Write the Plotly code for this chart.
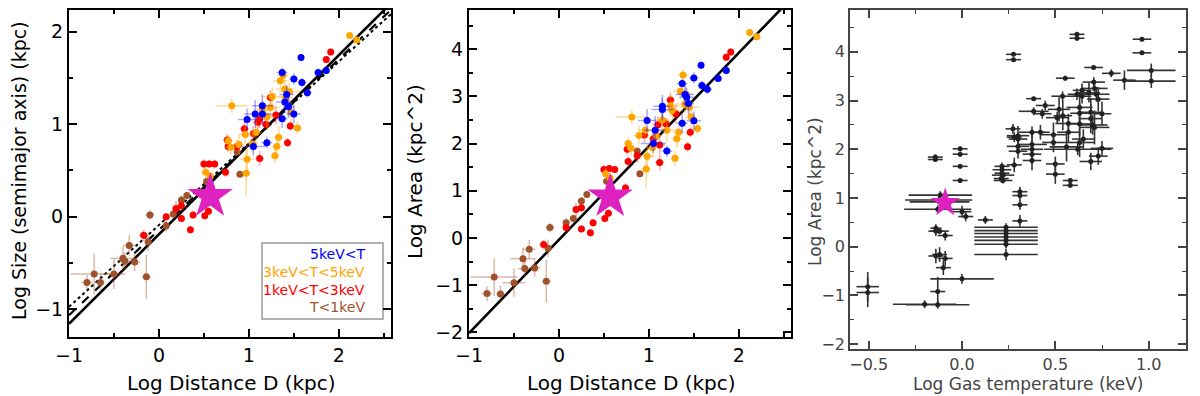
import plotly.graph_objects as go

# ---- left / middle panels: log distance vs log size and log area ----
brown_x = [-0.80, -0.72, -0.65, -0.50, -0.40, -0.38, -0.33, -0.27, -0.14, -0.12, -0.10, 0.08, 0.16, 0.25, 0.31, 0.90, 0.87, 0.53]
brown_size = [-0.71, -0.62, -0.71, -0.62, -0.45, -0.48, -0.31, -0.49, -0.65, -0.27, 0.02, -0.10, 0.03, 0.18, 0.23, 0.46, 0.70, 0.38]
brown_area = [-1.18, -0.83, -1.19, -0.95, -0.44, -0.65, -0.24, -0.64, -0.92, -0.22, 0.22, 0.32, 0.41, 0.78, 0.92, 1.36, 1.84, 1.20]
brown_xerr = [0.06, 0.26, 0.05, 0.13, 0.14, 0.08, 0.07, 0.06, 0.05, 0.04, 0.05, 0.04, 0.04, 0.04, 0.03, 0.03, 0.03, 0.03]
brown_size_err = [0.08, 0.22, 0.10, 0.16, 0.13, 0.10, 0.11, 0.10, 0.24, 0.10, 0.05, 0.06, 0.05, 0.05, 0.04, 0.03, 0.03, 0.03]
brown_area_err = [0.16, 0.40, 0.18, 0.30, 0.24, 0.18, 0.20, 0.18, 0.45, 0.18, 0.10, 0.10, 0.08, 0.08, 0.06, 0.05, 0.05, 0.05]

red_x = [-0.17, 0.08, 0.19, 0.25, 0.25, 0.35, 0.38, 0.50, 0.56, 0.62, 0.51, 0.55, 0.74, 0.76, 0.77, 0.87, 0.95, 1.12, 1.12, 1.19, 1.24, 1.43, 1.46, 1.86, 1.91, 1.30, 1.05, 1.10]
red_size = [-0.20, 0.00, 0.09, 0.12, -0.02, -0.14, 0.02, 0.57, 0.57, 0.57, 0.01, 0.06, 0.48, 0.83, 0.76, 0.76, 0.95, 0.63, 1.06, 1.00, 1.29, 0.80, 0.98, 1.70, 1.78, 1.10, 0.90, 1.02]
red_area = [-0.14, 0.22, 0.60, 0.64, 0.19, 0.11, 0.32, 1.45, 1.47, 1.45, 0.41, 0.52, 1.06, 1.88, 1.62, 1.74, 2.18, 1.60, 1.97, 2.42, 2.92, 1.93, 2.24, 3.83, 3.94, 2.63, 2.10, 2.40]
red_xerr = [0.05, 0.03, 0.04, 0.04, 0.03, 0.03, 0.03, 0.04, 0.03, 0.04, 0.03, 0.03, 0.04, 0.05, 0.04, 0.04, 0.05, 0.05, 0.06, 0.05, 0.05, 0.04, 0.04, 0.03, 0.03, 0.06, 0.05, 0.06]
red_size_err = [0.06, 0.04, 0.08, 0.05, 0.04, 0.04, 0.04, 0.05, 0.04, 0.04, 0.04, 0.04, 0.05, 0.06, 0.06, 0.07, 0.08, 0.08, 0.10, 0.06, 0.08, 0.05, 0.05, 0.04, 0.04, 0.10, 0.08, 0.09]
red_area_err = [0.10, 0.08, 0.14, 0.10, 0.08, 0.08, 0.08, 0.10, 0.08, 0.08, 0.08, 0.08, 0.10, 0.12, 0.12, 0.14, 0.16, 0.16, 0.20, 0.12, 0.16, 0.10, 0.10, 0.08, 0.08, 0.20, 0.16, 0.18]

orange_x = [2.12, 2.20, 0.77, 0.80, 0.81, 0.96, 0.97, 0.98, 1.04, 1.08, 1.15, 1.24, 1.26, 1.29, 1.31, 1.33, 1.35, 1.38, 1.40, 1.45, 1.47, 1.54, 1.41, 1.20, 0.52, 0.57, 0.89]
orange_size = [1.96, 1.91, 0.82, 0.75, 1.20, 0.89, 0.47, 0.62, 0.79, 0.91, 1.16, 1.18, 1.30, 0.66, 0.76, 0.86, 1.47, 1.53, 1.38, 1.35, 1.13, 0.96, 1.29, 1.08, 0.48, 0.44, 0.78]
orange_area = [4.35, 4.26, 2.00, 1.90, 2.56, 2.28, 1.46, 1.73, 1.91, 2.17, 2.50, 2.80, 2.70, 1.69, 2.10, 2.24, 3.11, 3.45, 2.84, 2.77, 2.56, 2.32, 3.05, 2.28, 1.36, 1.27, 2.17]
orange_xerr = [0.03, 0.03, 0.05, 0.06, 0.18, 0.08, 0.05, 0.08, 0.06, 0.07, 0.08, 0.10, 0.12, 0.05, 0.06, 0.06, 0.08, 0.06, 0.10, 0.12, 0.06, 0.05, 0.08, 0.09, 0.04, 0.04, 0.06]
orange_size_err = [0.03, 0.03, 0.06, 0.08, 0.08, 0.10, 0.25, 0.15, 0.10, 0.12, 0.10, 0.12, 0.10, 0.08, 0.10, 0.12, 0.08, 0.06, 0.10, 0.10, 0.12, 0.06, 0.08, 0.14, 0.06, 0.05, 0.10]
orange_area_err = [0.06, 0.06, 0.12, 0.16, 0.16, 0.20, 0.40, 0.26, 0.20, 0.22, 0.20, 0.22, 0.20, 0.16, 0.20, 0.22, 0.16, 0.12, 0.20, 0.20, 0.22, 0.12, 0.16, 0.26, 0.12, 0.10, 0.20]

blue_x = [1.58, 1.37, 1.50, 1.59, 1.65, 1.77, 1.86, 1.42, 1.40, 1.50, 1.44, 1.37, 1.15, 1.15, 1.07, 0.98, 1.05, 1.20]
blue_size = [1.72, 1.56, 1.49, 1.45, 1.34, 1.56, 1.58, 1.32, 1.24, 1.11, 1.19, 1.06, 1.20, 1.11, 1.11, 1.05, 0.76, 0.80]
blue_area = [3.66, 3.27, 3.39, 3.23, 3.15, 3.38, 3.55, 2.98, 3.04, 2.48, 2.85, 2.43, 2.72, 2.79, 2.28, 2.49, 2.00, 1.84]
blue_xerr = [0.03, 0.06, 0.05, 0.05, 0.05, 0.04, 0.04, 0.08, 0.10, 0.08, 0.06, 0.06, 0.12, 0.10, 0.12, 0.10, 0.14, 0.06]
blue_size_err = [0.03, 0.05, 0.06, 0.05, 0.05, 0.04, 0.04, 0.10, 0.12, 0.10, 0.12, 0.10, 0.12, 0.12, 0.15, 0.12, 0.10, 0.06]
blue_area_err = [0.06, 0.10, 0.12, 0.10, 0.10, 0.08, 0.08, 0.20, 0.24, 0.20, 0.24, 0.20, 0.24, 0.24, 0.30, 0.24, 0.20, 0.12]

star_dist = 0.57
star_size = 0.22
star_area = 0.87
star_temp = -0.09
star_area_t = 0.90

fit_x = [-1.0, 2.6]
fit_solid = [-1.158, 2.327]    # log size, solid fit
fit_dash = [-1.065, 2.256]     # log size, dashed fit
fit_dot = [-0.974, 2.208]      # log size, dotted fit
fit_area = [-2.02, 5.11]       # log area fit

# ---- right panel: gas temperature vs log area ----
temp = [0.616, 0.616, 0.964, 0.964, 0.276, 0.276, 0.705, 0.80, 0.87, 1.014,
        1.014, 0.553, 0.706, 0.71, 0.643, 0.643, 0.539, 0.616, 0.68, 0.72,
        0.73, 0.384, 0.446, 0.384, 0.43, 0.52, 0.54, 0.51, 0.63, 0.63,
        0.69, 0.75, 0.69, 0.70, 0.71, 0.63, 0.57, 0.57, 0.65, 0.273,
        0.30, 0.30, 0.28, 0.30, 0.30, 0.375, 0.42, 0.375, 0.375, 0.375,
        0.375, 0.49, 0.49, 0.56, 0.63, 0.75, 0.73, 0.69, 0.50, 0.50,
        0.214, 0.214, 0.214, 0.22, 0.21, 0.22, 0.28, -0.01, -0.01, -0.01,
        -0.01, -0.143, -0.143, 0.58, 0.58, -0.116, -0.13, -0.12, -0.125, 0.0,
        0.02, 0.125, -0.14, -0.14, -0.12, -0.09, 0.236, 0.236, 0.236, 0.236,
        0.236, 0.236, 0.236, 0.31, 0.31, 0.31, 0.31, -0.14, -0.12, -0.09,
        -0.10, 0.0, -0.13, -0.20, -0.13, -0.505, -0.505, 0.62]
area_t = [4.36, 4.28, 4.26, 3.98, 3.95, 3.84, 3.68, 3.56, 3.42, 3.62,
          3.40, 3.46, 3.38, 3.25, 3.21, 3.09, 3.09, 3.13, 3.16, 3.13,
          3.03, 3.04, 2.90, 2.78, 2.73, 2.82, 2.69, 2.65, 2.86, 2.74,
          2.76, 2.73, 2.63, 2.50, 2.45, 2.52, 2.53, 2.35, 2.21, 2.42,
          2.28, 2.21, 2.25, 2.06, 1.96, 2.35, 2.35, 2.10, 2.00, 1.90,
          1.77, 2.30, 2.14, 2.05, 2.14, 2.02, 1.86, 1.75, 1.70, 1.49,
          1.65, 1.58, 1.51, 1.47, 1.40, 1.36, 1.68, 2.01, 1.90, 1.65,
          1.36, 1.84, 1.79, 1.36, 1.26, 1.06, 0.77, 0.92, 0.96, 0.72,
          0.62, 0.55, 0.38, 0.32, 0.32, 0.23, 0.40, 0.33, 0.27, 0.20,
          0.13, 0.05, -0.16, 1.13, 1.05, 0.86, 0.53, -0.19, -0.16, -0.24,
          -0.43, -0.66, -0.92, -1.18, -1.19, -0.82, -0.94, 2.00]
temp_err = [0.04, 0.04, 0.05, 0.05, 0.04, 0.04, 0.05, 0.05, 0.06, 0.13,
            0.13, 0.05, 0.06, 0.07, 0.05, 0.05, 0.06, 0.05, 0.06, 0.07,
            0.06, 0.04, 0.05, 0.08, 0.05, 0.06, 0.05, 0.06, 0.07, 0.05,
            0.06, 0.05, 0.06, 0.08, 0.08, 0.06, 0.07, 0.06, 0.06, 0.04,
            0.06, 0.05, 0.04, 0.06, 0.05, 0.07, 0.05, 0.08, 0.06, 0.05,
            0.05, 0.07, 0.06, 0.09, 0.08, 0.06, 0.05, 0.06, 0.05, 0.05,
            0.04, 0.05, 0.04, 0.06, 0.04, 0.05, 0.04, 0.04, 0.04, 0.04,
            0.04, 0.04, 0.04, 0.04, 0.04, 0.17, 0.18, 0.16, 0.18, 0.05,
            0.04, 0.04, 0.03, 0.04, 0.05, 0.04, 0.17, 0.17, 0.17, 0.17,
            0.17, 0.17, 0.17, 0.04, 0.04, 0.04, 0.04, 0.04, 0.04, 0.04,
            0.04, 0.17, 0.04, 0.17, 0.17, 0.06, 0.06, 0.18]
area_t_err = [0.05, 0.05, 0.04, 0.04, 0.04, 0.04, 0.05, 0.08, 0.20, 0.14,
              0.14, 0.05, 0.10, 0.15, 0.14, 0.15, 0.10, 0.12, 0.20, 0.15,
              0.25, 0.04, 0.10, 0.08, 0.10, 0.25, 0.30, 0.12, 0.30, 0.20,
              0.30, 0.25, 0.30, 0.20, 0.35, 0.25, 0.20, 0.20, 0.20, 0.10,
              0.20, 0.10, 0.10, 0.15, 0.15, 0.12, 0.15, 0.25, 0.20, 0.20,
              0.20, 0.25, 0.20, 0.30, 0.30, 0.15, 0.18, 0.18, 0.15, 0.20,
              0.08, 0.06, 0.06, 0.06, 0.08, 0.06, 0.15, 0.05, 0.05, 0.05,
              0.05, 0.05, 0.05, 0.05, 0.05, 0.08, 0.08, 0.08, 0.08, 0.12,
              0.10, 0.08, 0.08, 0.10, 0.06, 0.10, 0.08, 0.08, 0.08, 0.08,
              0.08, 0.08, 0.12, 0.10, 0.10, 0.10, 0.12, 0.15, 0.15, 0.15,
              0.15, 0.10, 0.30, 0.08, 0.08, 0.30, 0.30, 0.12]

MAGENTA = '#DD22C0'
GROUPS = [
    ('#A0522D', 'rgba(160,82,45,0.4)', brown_x, brown_size, brown_area, brown_xerr, brown_size_err, brown_area_err),
    ('#FF0000', 'rgba(255,0,0,0.35)', red_x, red_size, red_area, red_xerr, red_size_err, red_area_err),
    ('#FFA500', 'rgba(255,165,0,0.4)', orange_x, orange_size, orange_area, orange_xerr, orange_size_err, orange_area_err),
    ('#0000FF', 'rgba(0,0,255,0.35)', blue_x, blue_size, blue_area, blue_xerr, blue_size_err, blue_area_err),
]
FONT = 'DejaVu Sans'

# the page body has an 8px margin, so the figure is sized to fit the window
# and window-pixel positions are converted to paper fractions
W, H, OFF = 1192, 388, 8


def px(x):
    return (x - OFF) / W


def py(y):
    return (H - (y - OFF)) / H


fig = go.Figure()

# fit lines (drawn first so points sit on top)
fig.add_trace(go.Scatter(x=fit_x, y=fit_dot, mode='lines', line=dict(color='black', width=2, dash='dot'), xaxis='x', yaxis='y'))
fig.add_trace(go.Scatter(x=fit_x, y=fit_dash, mode='lines', line=dict(color='black', width=2.2, dash='dash'), xaxis='x', yaxis='y'))
fig.add_trace(go.Scatter(x=fit_x, y=fit_solid, mode='lines', line=dict(color='black', width=2.6), xaxis='x', yaxis='y'))
fig.add_trace(go.Scatter(x=fit_x, y=fit_area, mode='lines', line=dict(color='black', width=2.6), xaxis='x2', yaxis='y2'))

for col, ecol, gx, gs, ga, gxe, gse, gae in GROUPS:
    for yv, ye, xa, ya in ((gs, gse, 'x', 'y'), (ga, gae, 'x2', 'y2')):
        fig.add_trace(go.Scatter(
            x=gx, y=yv, mode='markers', xaxis=xa, yaxis=ya,
            marker=dict(color=col, size=7),
            error_x=dict(type='data', array=gxe, color=ecol, thickness=1.5, width=0),
            error_y=dict(type='data', array=ye, color=ecol, thickness=1.5, width=0),
        ))

fig.add_trace(go.Scatter(x=[star_dist], y=[star_size], mode='markers', xaxis='x', yaxis='y',
                         marker=dict(symbol='star', size=34, color=MAGENTA, line_width=0)))
fig.add_trace(go.Scatter(x=[star_dist], y=[star_area], mode='markers', xaxis='x2', yaxis='y2',
                         marker=dict(symbol='star', size=34, color=MAGENTA, line_width=0)))

# right panel
fig.add_trace(go.Scatter(
    x=temp, y=area_t, mode='markers', xaxis='x3', yaxis='y3',
    marker=dict(color='#222222', size=5),
    error_x=dict(type='data', array=temp_err, color='#333333', thickness=1.6, width=0),
    error_y=dict(type='data', array=area_t_err, color='#333333', thickness=1.6, width=0),
))
fig.add_trace(go.Scatter(x=[star_temp], y=[star_area_t], mode='markers', xaxis='x3', yaxis='y3',
                         marker=dict(symbol='star', size=22, color=MAGENTA, line_width=0)))


def _axis(domain, rng, dtick, minor, color='black', lw=2, size=19, anchor=None, fmt=None):
    d = dict(domain=domain, range=rng, dtick=dtick, tick0=0, automargin=False,
             showgrid=False, zeroline=False, showline=True, mirror='ticks',
             linecolor=color, linewidth=lw, ticks='inside', ticklen=8, tickwidth=lw,
             tickcolor=color, tickfont=dict(family=FONT, size=size, color=color),
             minor=dict(dtick=minor, tick0=0, ticks='inside', ticklen=4, tickwidth=lw * 0.75, tickcolor=color),
             anchor=anchor)
    if fmt:
        d['tickformat'] = fmt
    return d


ydom = [py(337), py(9.5)]
fig.update_layout(
    width=W, height=H,
    paper_bgcolor='white', plot_bgcolor='white',
    showlegend=False,
    margin=dict(l=0, r=0, t=0, b=0),
    xaxis=_axis([px(69), px(391)], [-1, 2.58], 1, 0.5, anchor='y'),
    yaxis=_axis(ydom, [-1.3, 2.24], 1, 0.5, anchor='x'),
    xaxis2=_axis([px(469), px(791)], [-1, 2.58], 1, 0.5, anchor='y2'),
    yaxis2=_axis(ydom, [-2.1, 4.84], 1, 0.5, anchor='x2'),
    xaxis3=_axis([px(850), px(1186)], [-0.6, 1.2], 0.5, 0.25, color='#444444', lw=1.5, size=16, anchor='y3', fmt='.1f'),
    yaxis3=_axis([py(349), py(10)], [-2.1, 4.86], 1, 0.5, color='#444444', lw=1.5, size=16, anchor='x3'),
)

# axis titles
titles = [
    (19, 171, 'Log Size (semimajor axis) (kpc)', -90, 19, 'black'),
    (231, 383, 'Log Distance D (kpc)', 0, 20, 'black'),
    (415, 172, 'Log Area (kpc^2)', -90, 20, 'black'),
    (631, 383, 'Log Distance D (kpc)', 0, 20, 'black'),
    (815, 192, 'Log Area (kpc^2)', -90, 17, '#444444'),
    (1028, 384, 'Log Gas temperature (keV)', 0, 17, '#444444'),
]
for tx, ty, txt, ang, sz, c in titles:
    fig.add_annotation(x=px(tx), y=py(ty), xref='paper', yref='paper',
                       text=txt, textangle=ang, showarrow=False,
                       xanchor='center', yanchor='middle',
                       font=dict(family=FONT, size=sz, color=c))

# legend box
fig.add_shape(type='rect', xref='paper', yref='paper',
              x0=px(262), x1=px(383), y0=py(319), y1=py(243),
              line=dict(color='#999999', width=1.5), fillcolor='white', layer='below')
legend_rows = [
    ('5keV<T', '#0000FF', 254),
    ('3keV<T<5keV', '#FFA500', 272),
    ('1keV<T<3keV', '#FF0000', 290),
    ('T<1keV', '#A0522D', 307),
]
for txt, c, ly in legend_rows:
    fig.add_annotation(x=px(367), y=py(ly), xref='paper', yref='paper',
                       text=txt, showarrow=False, xanchor='right', yanchor='middle',
                       font=dict(family=FONT, size=14, color=c))

fig.write_html("out.html")
